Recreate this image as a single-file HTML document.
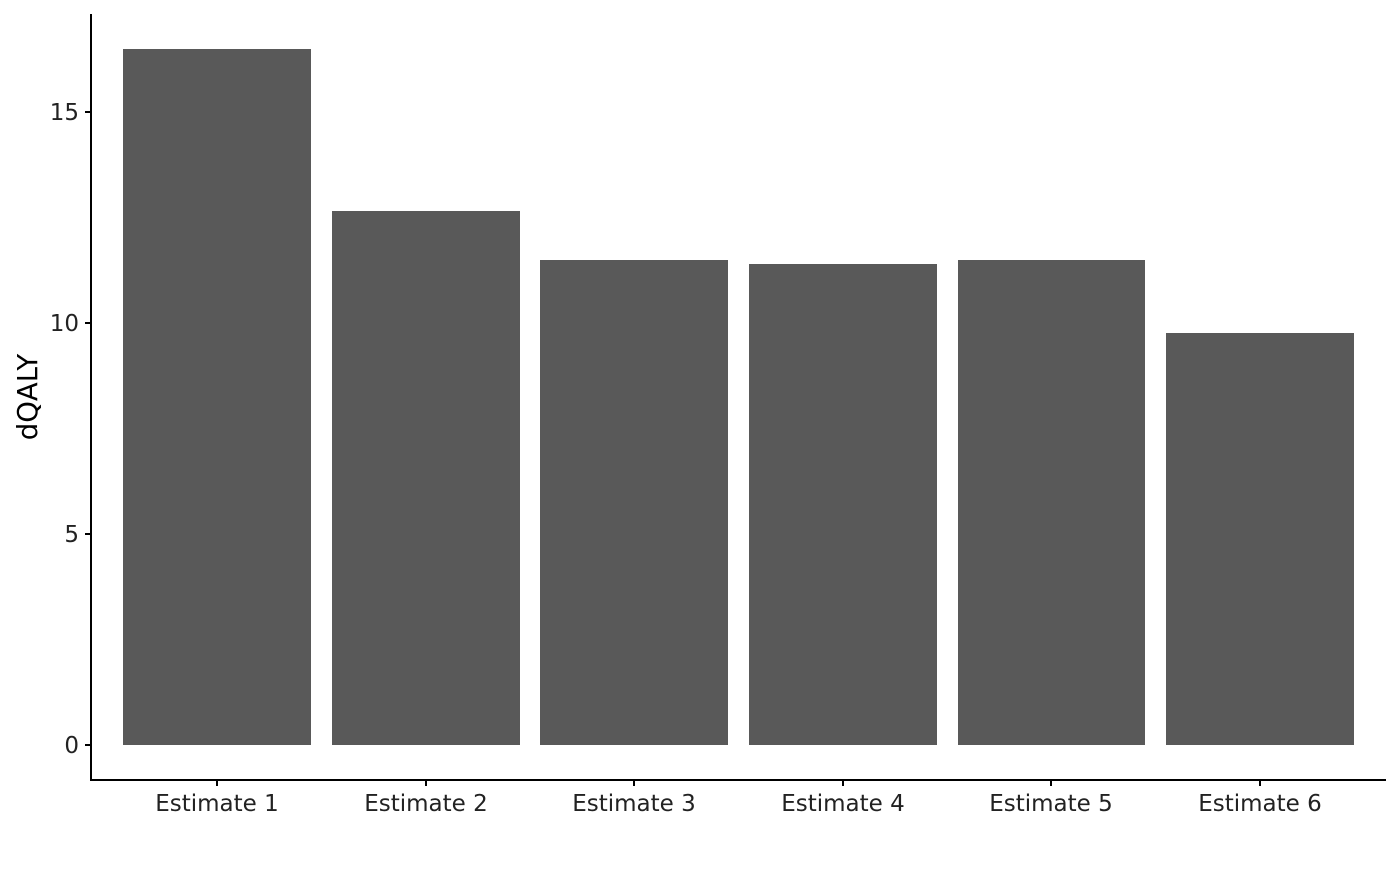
<!DOCTYPE html>
<html><head><style>body{margin:0;background:#fff}</style></head><body>
<svg width="1400" height="865" xmlns="http://www.w3.org/2000/svg" font-family="DejaVu Sans, Liberation Sans, sans-serif">
<rect width="1400" height="865" fill="#fff"/>
<g fill="#595959">
<rect x="123" y="49" width="188" height="696"/>
<rect x="332" y="211" width="188" height="534"/>
<rect x="540" y="260" width="188" height="485"/>
<rect x="749" y="264" width="188" height="481"/>
<rect x="958" y="260" width="187" height="485"/>
<rect x="1166" y="333" width="188" height="412"/>
</g>
<g stroke="#000" stroke-width="2" fill="none">
<line x1="91" y1="14" x2="91" y2="781"/>
<line x1="90" y1="780" x2="1386" y2="780"/>
<line x1="85" y1="745" x2="91" y2="745"/>
<line x1="85" y1="534" x2="91" y2="534"/>
<line x1="85" y1="323" x2="91" y2="323"/>
<line x1="85" y1="112" x2="91" y2="112"/>
<line x1="217" y1="780" x2="217" y2="786"/>
<line x1="426" y1="780" x2="426" y2="786"/>
<line x1="634" y1="780" x2="634" y2="786"/>
<line x1="843" y1="780" x2="843" y2="786"/>
<line x1="1051" y1="780" x2="1051" y2="786"/>
<line x1="1260" y1="780" x2="1260" y2="786"/>
</g>
<g font-size="23" fill="#222" text-anchor="end">
<text x="79" y="753">0</text>
<text x="79" y="542">5</text>
<text x="79" y="331">10</text>
<text x="79" y="120">15</text>
</g>
<g font-size="23" fill="#222" text-anchor="middle">
<text x="217" y="811">Estimate 1</text>
<text x="426" y="811">Estimate 2</text>
<text x="634" y="811">Estimate 3</text>
<text x="843" y="811">Estimate 4</text>
<text x="1051" y="811">Estimate 5</text>
<text x="1260" y="811">Estimate 6</text>
</g>
<text x="37" y="397" font-size="27.5" fill="#000" text-anchor="middle" transform="rotate(-90 37 397)">dQALY</text>
</svg>
</body></html>
